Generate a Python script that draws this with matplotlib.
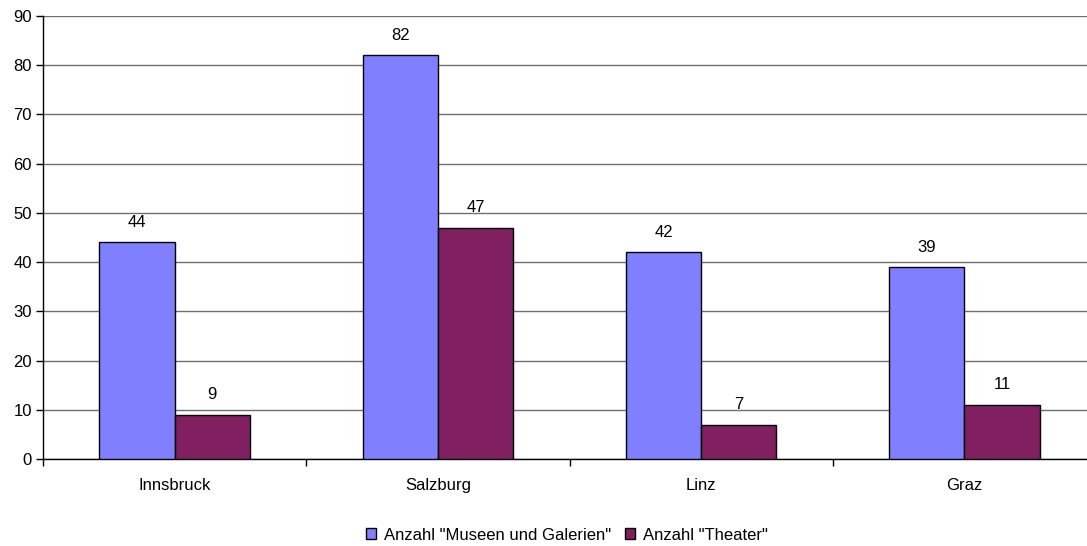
import matplotlib.pyplot as plt
import numpy as np

plt.rcParams['font.family'] = ['Liberation Sans', 'DejaVu Sans']

staedte = ['Innsbruck', 'Salzburg', 'Linz', 'Graz']
museen = [44, 82, 42, 39]
theater = [9, 47, 7, 11]
serien = ['Anzahl "Museen und Galerien"', 'Anzahl "Theater"']

fig = plt.figure(figsize=(10.87, 5.46), dpi=100)
ax = fig.add_axes([43 / 1087, 87 / 546, 1053 / 1087, 443 / 546])

x = np.arange(len(staedte))
breite = 1 / 3.5
b1 = ax.bar(x - breite / 2, museen, breite, color='#8080FF', edgecolor='black',
            linewidth=1, label=serien[0], zorder=3)
b2 = ax.bar(x + breite / 2, theater, breite, color='#802060', edgecolor='black',
            linewidth=1, label=serien[1], zorder=3)

for bars, werte in ((b1, museen), (b2, theater)):
    for bar, w in zip(bars, werte):
        ax.annotate(str(w), (bar.get_x() + bar.get_width() / 2, w),
                    xytext=(0, 9), textcoords='offset points',
                    ha='center', va='bottom', fontsize=12)

ax.set_xlim(-0.5, len(staedte) - 0.5)
ax.set_ylim(0, 90)
ax.set_yticks(range(0, 91, 10))
ax.yaxis.grid(True, color='#707070', linewidth=1, zorder=0)
ax.set_axisbelow(True)

# Kategorienamen mittig, Striche an den Kategoriegrenzen
ax.set_xticks(x)
ax.set_xticklabels(staedte)
ax.set_xticks(np.arange(-0.5, len(staedte)), minor=True)
ax.tick_params(axis='x', which='major', length=0, pad=14, labelsize=12)
ax.tick_params(axis='x', which='minor', length=5, width=1)
ax.tick_params(axis='y', length=5, width=1, labelsize=12, pad=3)

for s in ['top', 'right']:
    ax.spines[s].set_visible(False)
ax.spines['left'].set_linewidth(1)
ax.spines['bottom'].set_linewidth(1)

fig.legend(loc='center', bbox_to_anchor=(567 / 1087, 1 - 535 / 546), ncol=2,
           frameon=False, fontsize=12, handlelength=0.6, handleheight=0.6,
           handletextpad=0.5, columnspacing=0.8)

fig.savefig('out.png', dpi=100)
